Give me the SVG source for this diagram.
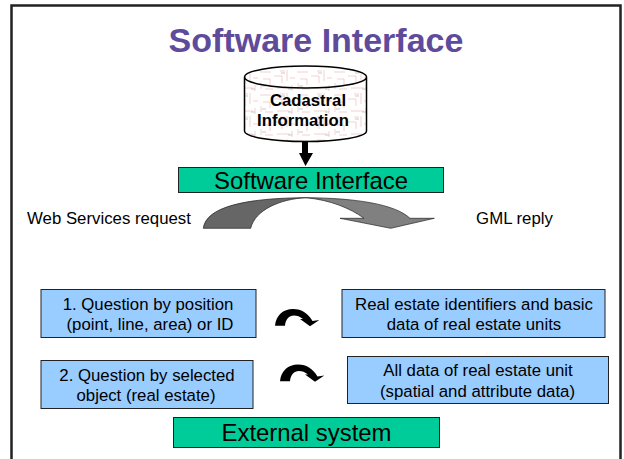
<svg xmlns="http://www.w3.org/2000/svg" width="624" height="459" viewBox="0 0 624 459">
<style>
text{font-family:"Liberation Sans",Arial,sans-serif;fill:#000;text-anchor:middle}
.b{fill:#99ccff;stroke:#222;stroke-width:1}
.g{fill:#00cc99;stroke:#222;stroke-width:1}
.t{font-size:16.800px}
.x{font-size:23.900px}
.c{font-size:16.700px;font-weight:bold}
</style>
<defs>
<pattern id="map" width="37" height="23" patternUnits="userSpaceOnUse">
<path d="M1 3h11M15 7h8v7M28 1v11M4 10h7v6M18 19h13M6 20h8M31 9h5M2 14v6M21 2h5M33 16v6" fill="none" stroke="#f2c4c4" stroke-width="0.800"/>
<path d="M22 4h4M3 17h4M29 20h4" fill="none" stroke="#bbb" stroke-width="0.800"/>
</pattern>
<path id="turn" d="M0 16.300C1 6 8 -0.500 18 -0.500C27 -0.500 33 4 37.500 11.500L44.300 10.500L35 16.800L25 9.500L28 9.500C25 7 22 6 19 6C14 6 10.500 10 10 16.300Z"/>
</defs>
<rect id="frame" x="11.500" y="5.500" width="609" height="460" fill="#fff" stroke="#222" stroke-width="2.500"/>
<text id="title" x="316" y="52" style="font-size:34px;font-weight:bold;fill:#5f4b9b">Software Interface</text>
<g id="cadastral">
<path d="M244.500 77V131A61 10.500 0 0 0 366.500 131V77A61 11 0 0 0 244.500 77Z" fill="#fff"/>
<path d="M244.500 77V131A61 10.500 0 0 0 366.500 131V77A61 11 0 0 0 244.500 77Z" fill="url(#map)"/>
<path d="M244.500 77V131A61 10.500 0 0 0 366.500 131V77A61 11 0 0 0 244.500 77ZM244.500 77A61 11 0 0 0 366.500 77" fill="none" stroke="#000" stroke-width="1.500"/>
<text class="c" x="308" y="106">Cadastral</text>
<text class="c" x="303" y="126">Information</text>
</g>
<g id="connectors">
<path d="M302 142H308V153H313L305.500 166L299 153H302Z" fill="#000"/>
<path d="M203.300 228.300C206 207 245 198 306 197.700C280 199 255 210 250.700 228.300Z" fill="#666" stroke="#222" stroke-width="0.700"/>
<path d="M306 197.700C355 198 395 204 410 218.300H434.300L390.700 228.300L340 218.300H364C350 208 330 200 306 197.700Z" fill="#808080" stroke="#222" stroke-width="0.700"/>
<use href="#turn" x="275" y="309.500"/>
<use href="#turn" x="280" y="365"/>
</g>
<g id="software-interface"><rect class="g" x="178.500" y="167.500" width="265" height="25"/><text class="x" x="311" y="188.500">Software Interface</text></g>
<text id="request" class="t" x="109" y="223.500">Web Services request</text>
<text id="reply" class="t" x="514.500" y="223.500">GML reply</text>
<g id="q1"><rect class="b" x="41" y="289.500" width="215" height="48"/><text class="t" x="148" y="310">1. Question by position</text><text class="t" x="150" y="330">(point, line, area) or ID</text></g>
<g id="r1"><rect class="b" x="342" y="289.500" width="263" height="48"/><text class="t" x="474" y="310">Real estate identifiers and basic</text><text class="t" x="474" y="330">data of real estate units</text></g>
<g id="q2"><rect class="b" x="41" y="360.500" width="212" height="48"/><text class="t" x="147" y="381">2. Question by selected</text><text class="t" x="146" y="401">object (real estate)</text></g>
<g id="r2"><rect class="b" x="347.500" y="356.500" width="261" height="47"/><text class="t" x="478" y="376">All data of real estate unit</text><text class="t" x="477.500" y="396.500">(spatial and attribute data)</text></g>
<g id="external"><rect class="g" x="173.500" y="417.500" width="266" height="30"/><text class="x" x="306.500" y="440.500">External system</text></g>
</svg>
